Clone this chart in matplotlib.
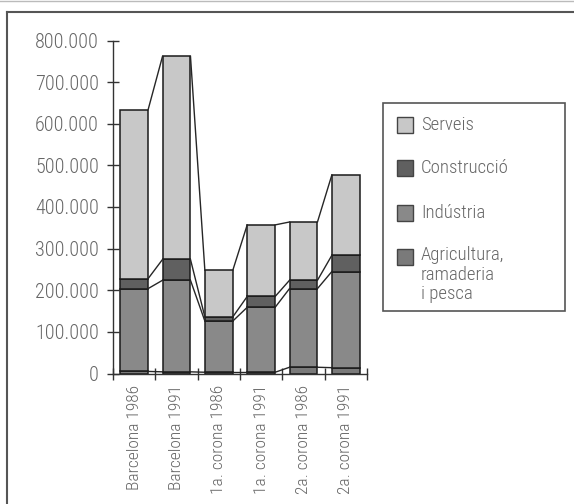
import matplotlib
matplotlib.use('Agg')
import matplotlib.pyplot as plt
from matplotlib.patches import Rectangle
from matplotlib.lines import Line2D
from matplotlib.ticker import FuncFormatter, FixedLocator
import numpy as np

plt.rcParams['font.family'] = ['Roboto Condensed', 'DejaVu Sans']
plt.rcParams['font.weight'] = 300

categories = ['Barcelona 1986', 'Barcelona 1991', '1a. corona 1986',
              '1a. corona 1991', '2a. corona 1986', '2a. corona 1991']
agricultura = [5000, 4000, 3000, 3000, 15000, 14000]
industria = [199000, 220000, 123000, 156000, 189000, 231000]
construccio = [24000, 50000, 10000, 26000, 20000, 39000]
serveis = [406000, 488000, 112000, 172000, 140000, 193000]

series = [('Agricultura,\nramaderia\ni pesca', agricultura, '#7a7a7a'),
          ('Indústria', industria, '#898989'),
          ('Construcció', construccio, '#606060'),
          ('Serveis', serveis, '#c8c8c8')]

W, H = 574, 504
fig = plt.figure(figsize=(W / 100, H / 100), dpi=100)

def fx(px):
    return px / W

def fy(py):
    return 1 - py / H

ax = fig.add_axes([fx(113), fy(373.5), fx(367) - fx(113), fy(40.5) - fy(373.5)])

x = np.arange(len(categories))
width = 0.66
bottom = np.zeros(len(categories))
levels = []
for name, vals, col in series:
    vals = np.array(vals, dtype=float)
    ax.bar(x, vals, width, bottom=bottom, color=col, edgecolor='#1a1a1a',
           linewidth=1.1, zorder=2)
    bottom = bottom + vals
    levels.append(bottom.copy())

# series lines between neighbouring bars
for lev in levels:
    for i in range(len(categories) - 1):
        ax.plot([x[i] + width / 2, x[i + 1] - width / 2], [lev[i], lev[i + 1]],
                color='#262626', lw=1.0, zorder=3)

ax.set_xlim(-0.5, len(categories) - 0.5)
ax.set_ylim(0, 800000)
ax.spines['top'].set_visible(False)
ax.spines['right'].set_visible(False)
for s in ('left', 'bottom'):
    ax.spines[s].set_color('#333333')
    ax.spines[s].set_linewidth(1.0)

ax.set_yticks(np.arange(0, 800001, 100000))
ax.yaxis.set_major_formatter(FuncFormatter(lambda v, p: f'{int(v):,}'.replace(',', '.')))
ax.tick_params(axis='y', direction='inout', length=8, width=1.0, color='#333333',
               labelsize=14.5, labelcolor='#666666', pad=6)

ax.set_xticks(x)
ax.set_xticklabels(categories, rotation=90)
ax.xaxis.set_minor_locator(FixedLocator(np.arange(-0.5, len(categories), 1.0)))
ax.tick_params(axis='x', which='major', length=0, labelsize=12.5,
               labelcolor='#666666', pad=8)
ax.tick_params(axis='x', which='minor', direction='inout', length=8, width=1.0,
               color='#333333')

# legend box drawn by hand so the patch sits on the first line of the text
fig.patches.append(Rectangle((fx(383), fy(311)), fx(565) - fx(383), fy(103) - fy(311),
                             transform=fig.transFigure, fill=False,
                             edgecolor='#555555', lw=1.2))
legend_rows = [(125, series[3]), (168, series[2]), (213, series[1]), (257, series[0])]
for cy, (name, vals, col) in legend_rows:
    fig.patches.append(Rectangle((fx(397), fy(cy + 8)), fx(16), 16 / H,
                                 transform=fig.transFigure, facecolor=col,
                                 edgecolor='#444444', lw=1.0))
    fig.text(fx(421), fy(cy - 11) if '\n' in name else fy(cy), name, ha='left',
             va='top' if '\n' in name else 'center',
             fontsize=13.5, color='#666666', linespacing=1.12,
             transform=fig.transFigure)

# outer frame of the figure
fig.lines.append(Line2D([fx(7), fx(7)], [fy(12), 0], transform=fig.transFigure,
                        color='#555555', lw=1.5))
fig.lines.append(Line2D([fx(7), 1], [fy(12), fy(12)], transform=fig.transFigure,
                        color='#555555', lw=1.5))
fig.lines.append(Line2D([0, 1], [fy(0.5), fy(0.5)], transform=fig.transFigure,
                        color='#bbbbbb', lw=1.0))

fig.savefig('out.png', dpi=100)
